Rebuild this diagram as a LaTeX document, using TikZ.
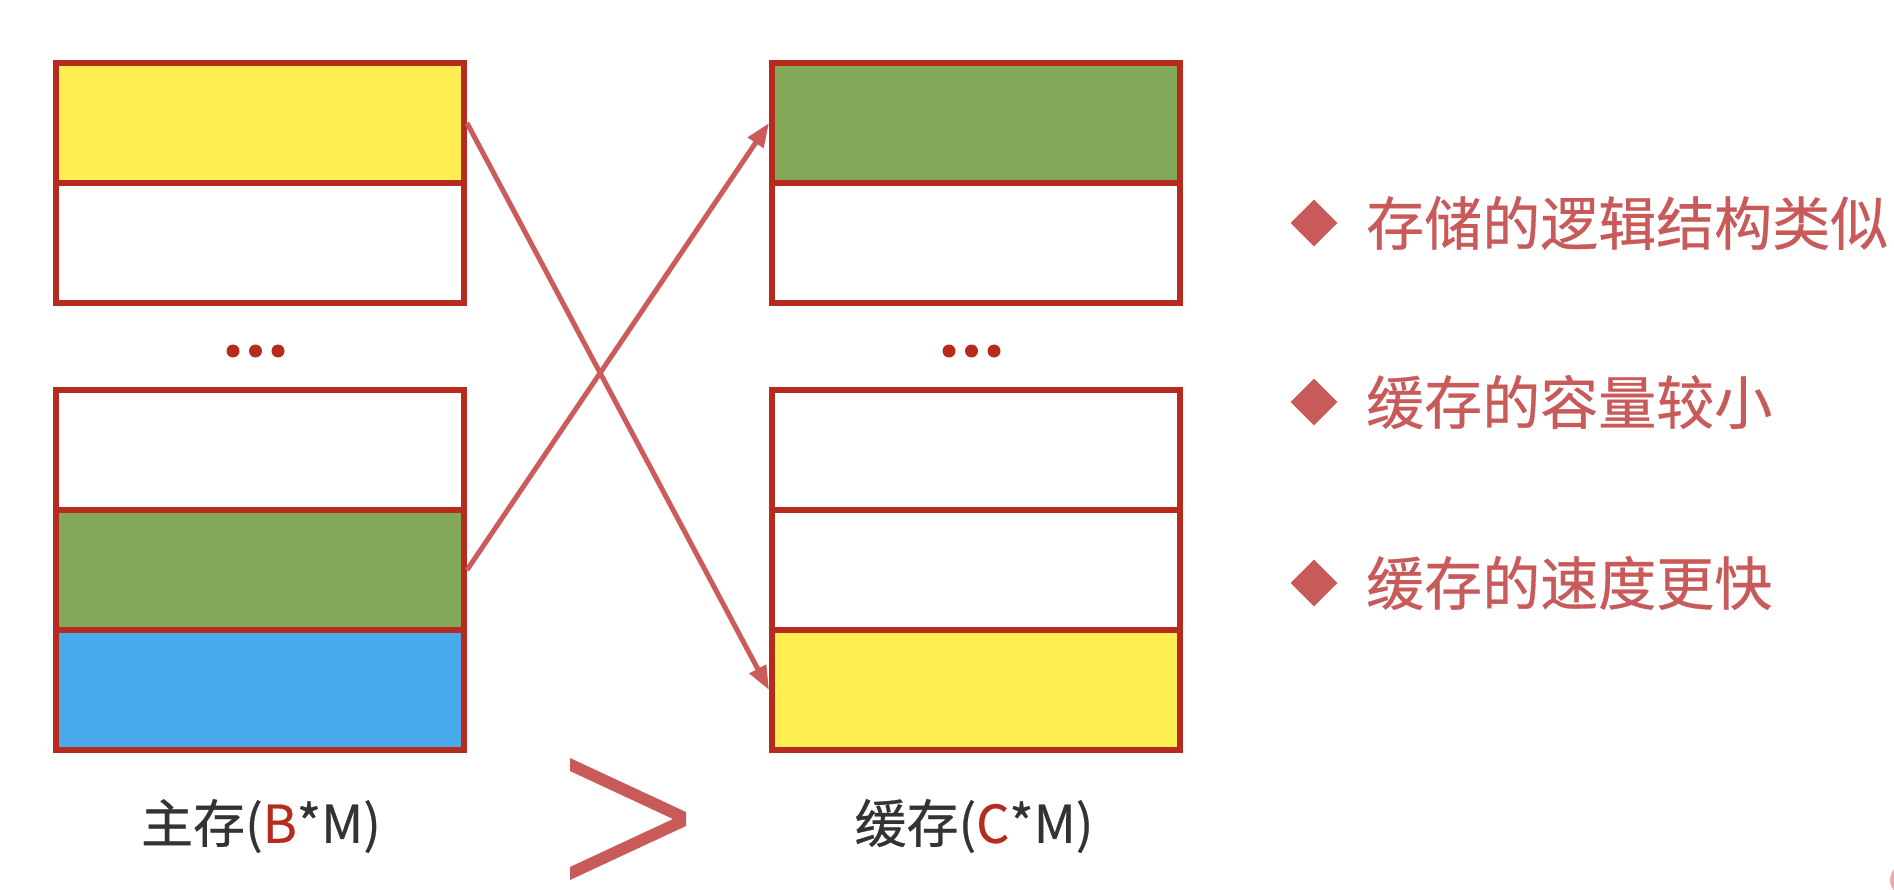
\documentclass[tikz,border=0pt]{standalone}
\usepackage{fontspec}
\newfontfamily\cjk[FakeBold=0.5]{Noto Sans CJK SC}
\usetikzlibrary{arrows.meta,shapes.geometric}
\definecolor{boxred}{RGB}{183,42,30}
\definecolor{arrowred}{RGB}{204,92,92}
\definecolor{txtred}{RGB}{200,90,90}
\definecolor{cyellow}{RGB}{255,238,82}
\definecolor{cgreen}{RGB}{132,168,90}
\definecolor{cblue}{RGB}{74,171,236}
\definecolor{labelgray}{RGB}{51,51,51}
\definecolor{pinkdot}{RGB}{236,170,170}
\begin{document}
\begin{tikzpicture}[x=1pt,y=-1pt,
  cell/.style={draw=boxred,line width=6pt,minimum width=408pt,minimum height=120pt,inner sep=0pt,fill=white},
  arr/.style={draw=arrowred,line width=5pt,-{Triangle[length=24pt,width=18pt]}},
  lab/.style={font=\cjk\fontsize{52}{62}\selectfont,text=labelgray,inner sep=0pt},
  bulletmark/.style={diamond,fill=txtred,minimum width=47pt,minimum height=47pt,inner sep=0pt},
  item/.style={font=\cjk\fontsize{58}{70}\selectfont,text=txtred,inner sep=0pt,anchor=west},
  dot/.style={fill=boxred}
]
\useasboundingbox (0,0) rectangle (1894,890);
\fill[white] (0,0) rectangle (1894,890);

% main memory (left)
\node[cell,fill=cyellow] (L1) at (260,123) {};
\node[cell] (L2) at (260,243) {};
\node[cell] (L3) at (260,450) {};
\node[cell,fill=cgreen] (L4) at (260,570) {};
\node[cell,fill=cblue] (L5) at (260,690) {};

% cache (right)
\node[cell,fill=cgreen] (R1) at (976,123) {};
\node[cell] (R2) at (976,243) {};
\node[cell] (R3) at (976,450) {};
\node[cell] (R4) at (976,570) {};
\node[cell,fill=cyellow] (R5) at (976,690) {};

% ellipsis dots
\fill[dot] (233,351) circle[radius=6.5];
\fill[dot] (255.5,351) circle[radius=6.5];
\fill[dot] (278,351) circle[radius=6.5];
\fill[dot] (949,351) circle[radius=6.5];
\fill[dot] (971.5,351) circle[radius=6.5];
\fill[dot] (994,351) circle[radius=6.5];

% arrows
\draw[arr] (L1.east) -- (R5.west);
\draw[arr] (L4.east) -- (R1.west);

% labels
\node[lab] (lblL) at (261,826) {主存(\textcolor{boxred}{B}*M)};
\node[lab] (lblR) at (974,826) {缓存(\textcolor{boxred}{C}*M)};

% greater-than sign
\fill[txtred] (570,758) -- (686,812) -- (686,826) -- (570,880) -- (570,867) -- (673,819) -- (570,771) -- cycle;

% bullet list
\node[bulletmark] (b1) at (1314,223) {};
\node[bulletmark] (b2) at (1314,402) {};
\node[bulletmark] (b3) at (1314,583) {};
\node[item] (t1) at (1366,223) {存储的逻辑结构类似};
\node[item] (t2) at (1366,402) {缓存的容量较小};
\node[item] (t3) at (1366,583) {缓存的速度更快};

% corner fragment
\fill[pinkdot] (1906,880) circle[radius=16];
\end{tikzpicture}
\end{document}
